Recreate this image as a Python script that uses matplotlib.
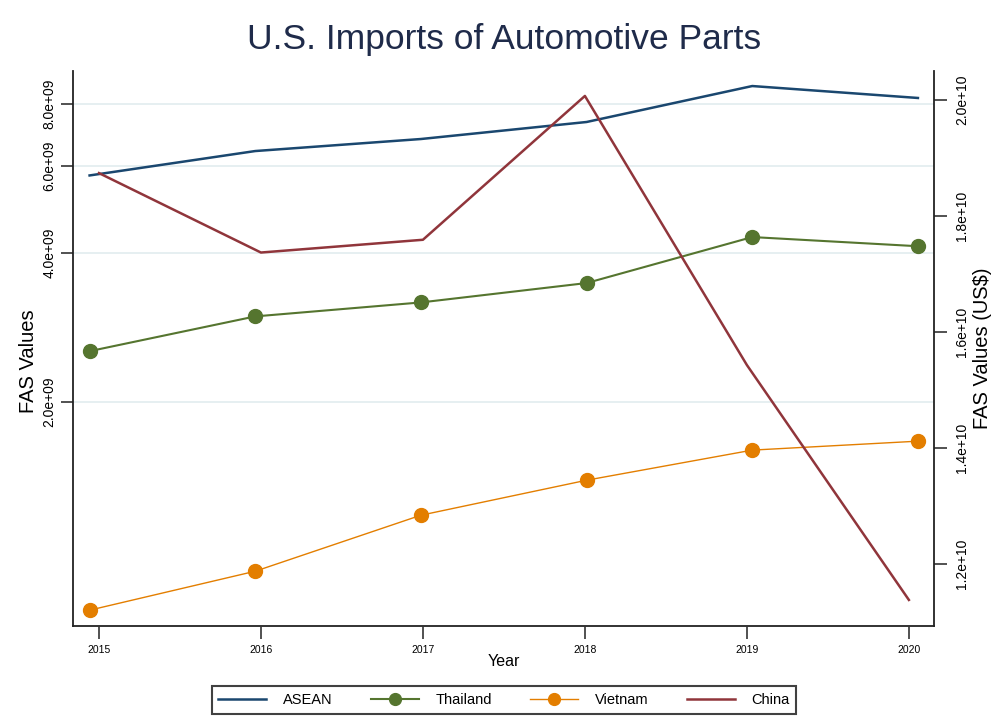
import matplotlib
matplotlib.use('Agg')

import matplotlib.pyplot as plt
from matplotlib.ticker import FixedLocator, NullLocator

plt.rcParams['font.family'] = ['Liberation Sans', 'DejaVu Sans']

# Annual FAS import values (US$)
years = [2015, 2016, 2017, 2018, 2019, 2020]
asean = [5.74e9, 6.43e9, 6.80e9, 7.36e9, 8.70e9, 8.23e9]
thailand = [2.535e9, 2.98e9, 3.18e9, 3.48e9, 4.31e9, 4.13e9]
vietnam = [7.60e8, 9.11e8, 1.182e9, 1.391e9, 1.60e9, 1.668e9]
china = [1.874e10, 1.737e10, 1.759e10, 2.007e10, 1.543e10, 1.138e10]

left_ticks = [2.0e9, 4.0e9, 6.0e9, 8.0e9]
left_labels = ['2.0e+09', '4.0e+09', '6.0e+09', '8.0e+09']
right_ticks = [1.2e10, 1.4e10, 1.6e10, 1.8e10, 2.0e10]
right_labels = ['1.2e+10', '1.4e+10', '1.6e+10', '1.8e+10', '2.0e+10']

navy = '#1a476f'
green = '#55752f'
orange = '#e37e00'
maroon = '#90353b'

fig = plt.figure(figsize=(10.03, 7.26), dpi=100)
rect = [0.0728, 0.1377, 0.8584, 0.7645]

# Primary axes: log scale, ASEAN / Thailand / Vietnam
ax = fig.add_axes(rect)
ax.set_yscale('log')
ax.set_xlim(2014.90, 2020.097)
ax.set_ylim(7.06e8, 9.33e9)
ax.yaxis.set_major_locator(FixedLocator(left_ticks))
ax.yaxis.set_minor_locator(NullLocator())
ax.set_yticklabels(left_labels, rotation=90, va='center', fontsize=10)
ax.tick_params(axis='y', length=9, width=1.2, pad=3, color='#333333')
ax.set_xticks([])
ax.grid(axis='y', color='#e6eff1', lw=1.4)
ax.set_axisbelow(True)
for s in ['top', 'right']:
    ax.spines[s].set_visible(False)
for s in ['left', 'bottom']:
    ax.spines[s].set_linewidth(1.3)
    ax.spines[s].set_color('#222222')

l_asean, = ax.plot(years, asean, color=navy, lw=1.8, label='ASEAN')
l_thai, = ax.plot(years, thailand, color=green, lw=1.5, marker='o',
                  markersize=10, label='Thailand')
l_viet, = ax.plot(years, vietnam, color=orange, lw=1.0, marker='o',
                  markersize=10, label='Vietnam')

# Secondary axes: linear scale, China
ax2 = fig.add_axes(rect, facecolor='none')
ax2.set_xlim(2014.84, 2020.155)
ax2.set_ylim(1.093e10, 2.05e10)
ax2.yaxis.tick_right()
ax2.yaxis.set_major_locator(FixedLocator(right_ticks))
ax2.set_yticklabels(right_labels, rotation=90, va='center', fontsize=10)
ax2.tick_params(axis='y', length=9, width=1.2, pad=6, color='#333333')
ax2.set_xticks(years)
ax2.set_xticklabels([str(y) for y in years], fontsize=7.5)
ax2.tick_params(axis='x', length=9, width=1.2, pad=5, color='#333333')
for s in ['top', 'left', 'bottom']:
    ax2.spines[s].set_visible(False)
ax2.spines['right'].set_linewidth(1.3)
ax2.spines['right'].set_color('#222222')

l_china, = ax2.plot(years, china, color=maroon, lw=1.8, label='China')

fig.text(0.5025, 0.946, 'U.S. Imports of Automotive Parts', ha='center',
         va='center', fontsize=25.5, color='#1f2b4a')
fig.text(0.028, 0.503, 'FAS Values', rotation=90, ha='center', va='center',
         fontsize=14.5)
fig.text(0.980, 0.520, r'FAS Values (US\$)', rotation=90, ha='center',
         va='center', fontsize=14.5)
fig.text(0.5025, 0.089, 'Year', ha='center', va='center', fontsize=11.5)

leg = fig.legend(handles=[l_asean, l_thai, l_viet, l_china], loc='center',
                 bbox_to_anchor=(0.5025, 0.0358), ncol=4, fontsize=10.5,
                 frameon=True, fancybox=False, edgecolor='#111111',
                 handlelength=3.3, handletextpad=1.15, columnspacing=2.6,
                 borderpad=0.45, markerscale=0.85)
leg.get_frame().set_linewidth(1.5)

plt.savefig('out.png', dpi=100)
